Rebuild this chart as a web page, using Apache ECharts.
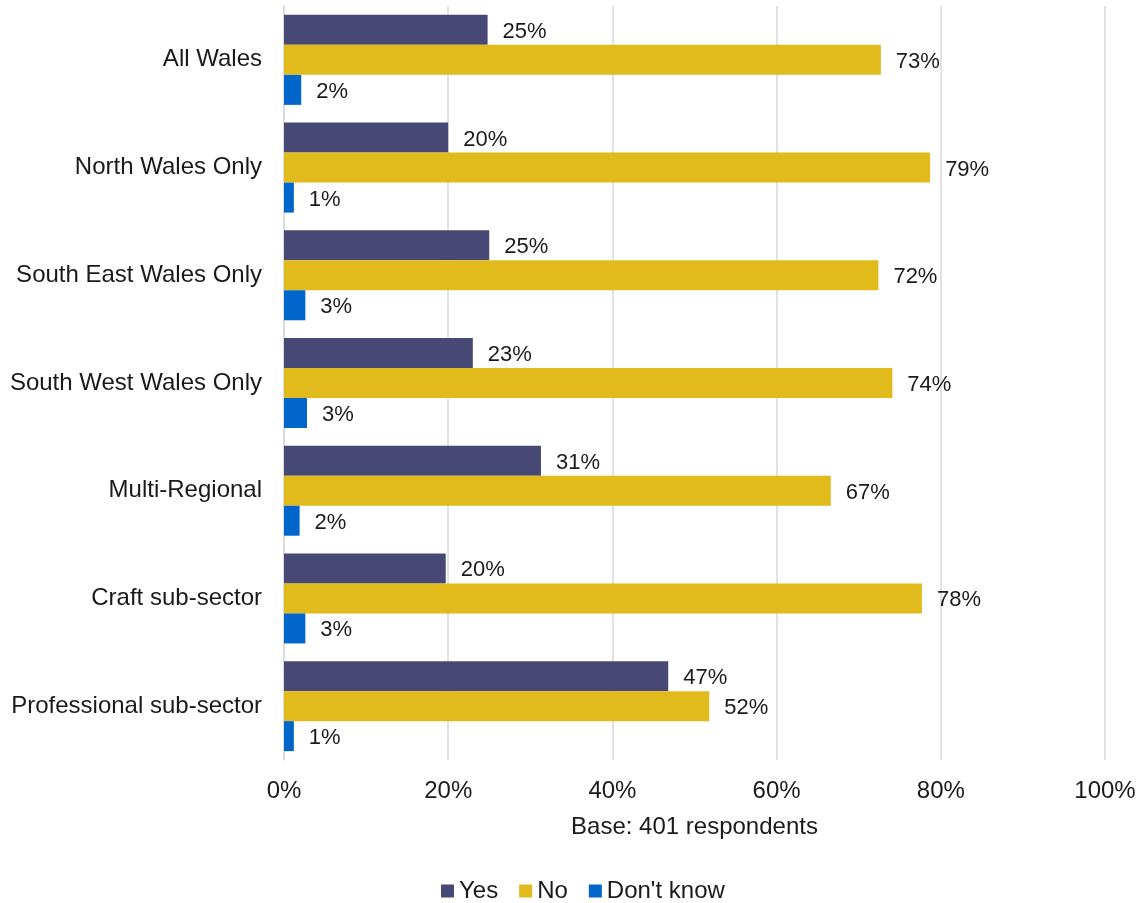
<!DOCTYPE html>
<html><head><meta charset="utf-8">
<script src="https://cdn.jsdelivr.net/npm/echarts@6/dist/echarts.min.js"></script>
<style>html,body{margin:0;padding:0;background:#fff;}#c{width:1141px;height:903px;}</style>
</head><body><div id="c"></div>
<script>
const categories = ['All Wales','North Wales Only','South East Wales Only','South West Wales Only','Multi-Regional','Craft sub-sector','Professional sub-sector'];
const yesValues = [24.8, 20.0, 25.0, 23.0, 31.3, 19.7, 46.8];
const noValues = [72.7, 78.7, 72.4, 74.1, 66.6, 77.7, 51.8];
const dkValues = [2.1, 1.2, 2.6, 2.8, 1.9, 2.6, 1.2];
const xTicks = [0, 20, 40, 60, 80, 100];

const chart = echarts.init(document.getElementById('c'));
const font = '"Liberation Sans", Arial, sans-serif';
function mk(name, data, color) {
  return {
    name, type: 'bar', data, barWidth: 30, barGap: '0%',
    itemStyle: { color },
    label: { show: true, position: 'right', distance: 15, offset: [0, 2], fontSize: 22, color: '#1a1a1a', fontFamily: font,
      formatter: p => Math.round(p.value) + '%' }
  };
}
chart.setOption({
  animation: false,
  textStyle: { fontFamily: font },
  grid: { left: 284, right: 36, top: 6, bottom: 143, containLabel: false },
  legend: {
    top: 874, left: 436, itemWidth: 13, itemHeight: 13, itemGap: 21,
    icon: 'rect', textStyle: { fontSize: 24, color: '#1a1a1a', fontFamily: font },
    data: ['Yes', 'No', "Don't know"]
  },
  xAxis: {
    type: 'value', min: 0, max: 100, interval: 20,
    name: 'Base: 401 respondents', nameLocation: 'middle', nameGap: 55,
    nameTextStyle: { fontSize: 24, color: '#1a1a1a', fontFamily: font },
    axisLine: { show: false }, axisTick: { show: false },
    axisLabel: { fontSize: 24, color: '#1a1a1a', margin: 19, fontFamily: font,
      formatter: v => xTicks.includes(v) ? v + '%' : '' },
    splitLine: { lineStyle: { color: '#d9d9d9', width: 1.5 } }
  },
  yAxis: {
    type: 'category', data: categories, inverse: true,
    axisLine: { show: true, lineStyle: { color: '#d9d9d9', width: 1.5 } },
    axisTick: { show: false },
    axisLabel: { fontSize: 24, color: '#1a1a1a', margin: 22, fontFamily: font }
  },
  series: [
    mk('Yes', yesValues, '#484874'),
    mk('No', noValues, '#e0bb1b'),
    mk("Don't know", dkValues, '#0066cc')
  ]
});
</script></body></html>
